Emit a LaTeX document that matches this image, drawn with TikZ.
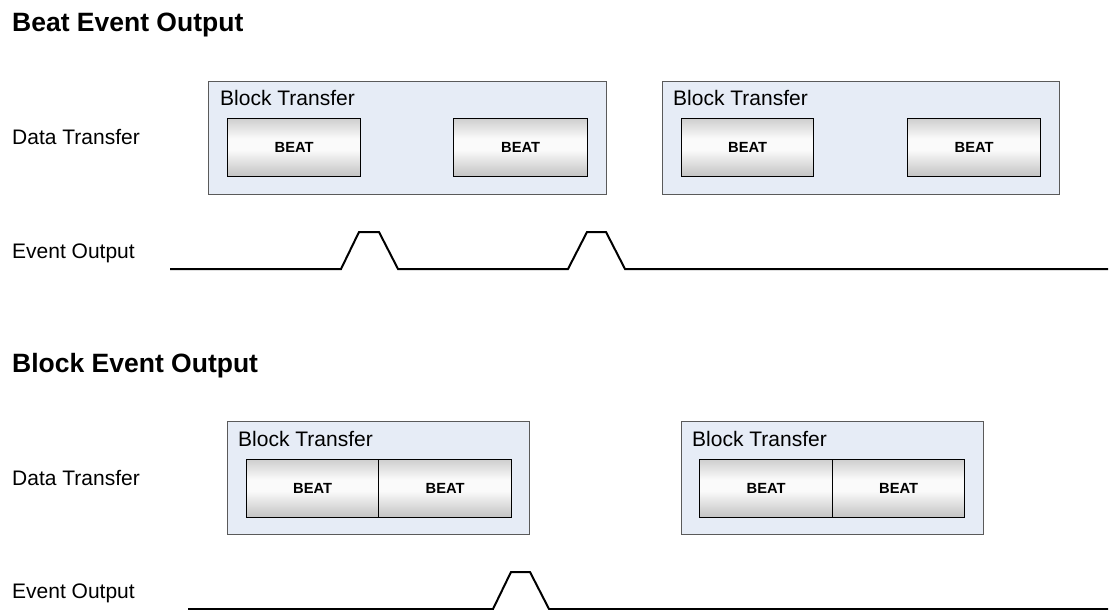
\documentclass[tikz,border=0pt]{standalone}
\usepackage{fontspec}
\setmainfont{Liberation Sans}
\definecolor{blockfill}{HTML}{E6ECF6}
\definecolor{blockline}{HTML}{5A5A5A}
\definecolor{beattop}{HTML}{CFCFCF}
\definecolor{beatbot}{HTML}{C2C2C2}
\definecolor{beatmid}{HTML}{FAFAFA}
\pgfdeclareverticalshading{beatshade}{100bp}{color(0bp)=(beatbot); color(25bp)=(beatbot); color(48bp)=(beatmid); color(58bp)=(beatmid); color(75bp)=(beattop); color(100bp)=(beattop)}
\tikzset{
  heading/.style={anchor=base west, inner sep=0pt, font=\fontsize{26.5}{30}\selectfont\bfseries},
  rowlabel/.style={anchor=base west, inner sep=0pt, font=\fontsize{21}{25}\selectfont},
  blockbox/.style={draw=blockline, fill=blockfill, line width=1pt, rectangle, inner sep=0pt, anchor=north west, minimum height=113pt},
  blocklabel/.style={anchor=base west, inner sep=0pt, font=\fontsize{21}{25}\selectfont},
  beatbox/.style={draw=black, line width=1.4pt, rectangle, inner sep=0pt, anchor=north west, minimum height=58pt, shading=beatshade, font=\fontsize{14.7}{17}\selectfont\bfseries},
  signal/.style={draw=black, line width=2pt, line join=miter}
}
\begin{document}
\begin{tikzpicture}[x=1pt,y=-1pt]
\useasboundingbox (0,0) rectangle (1111,610);
% ---------- Beat Event Output ----------
\node[heading] (h1) at (12,32) {Beat Event Output};
\node[rowlabel] (dt1) at (12,144) {Data Transfer};
\node[rowlabel] (eo1) at (12,258) {Event Output};

\node[blockbox, minimum width=398pt] (b1) at (208,81) {};
\node[blocklabel] (bl1) at (220,106) {Block Transfer};
\node[beatbox, minimum width=133pt] (b1a) at (227,118) {BEAT};
\node[beatbox, minimum width=134pt] (b1b) at (453,118) {BEAT};

\node[blockbox, minimum width=397pt] (b2) at (662,81) {};
\node[blocklabel] (bl2) at (673,106) {Block Transfer};
\node[beatbox, minimum width=132pt] (b2a) at (681,118) {BEAT};
\node[beatbox, minimum width=133pt] (b2b) at (907,118) {BEAT};

\coordinate (s1) at (170,269);
\coordinate (s2) at (341,269);
\coordinate (s3) at (359,232);
\coordinate (s4) at (379,232);
\coordinate (s5) at (398,269);
\coordinate (s6) at (568,269);
\coordinate (s7) at (587,232);
\coordinate (s8) at (606,232);
\coordinate (s9) at (625,269);
\coordinate (s10) at (1108,269);
\draw[signal] (s1) -- (s2) -- (s3) -- (s4) -- (s5) -- (s6) -- (s7) -- (s8) -- (s9) -- (s10);

% ---------- Block Event Output ----------
\node[heading] (h2) at (12,372) {Block Event Output};
\node[rowlabel] (dt2) at (12,485) {Data Transfer};
\node[rowlabel] (eo2) at (12,598) {Event Output};

\node[blockbox, minimum width=302pt] (b3) at (227,421) {};
\node[blocklabel] (bl3) at (238,446) {Block Transfer};
\node[beatbox, minimum width=132pt] (b3a) at (246,459) {BEAT};
\node[beatbox, minimum width=133pt] (b3b) at (378,459) {BEAT};

\node[blockbox, minimum width=302pt] (b4) at (681,421) {};
\node[blocklabel] (bl4) at (692,446) {Block Transfer};
\node[beatbox, minimum width=133pt] (b4a) at (699,459) {BEAT};
\node[beatbox, minimum width=132pt] (b4b) at (832,459) {BEAT};

\coordinate (t1) at (188,609);
\coordinate (t2) at (493,609);
\coordinate (t3) at (511,572);
\coordinate (t4) at (530,572);
\coordinate (t5) at (549,609);
\coordinate (t6) at (1108,609);
\draw[signal] (t1) -- (t2) -- (t3) -- (t4) -- (t5) -- (t6);
\end{tikzpicture}
\end{document}
